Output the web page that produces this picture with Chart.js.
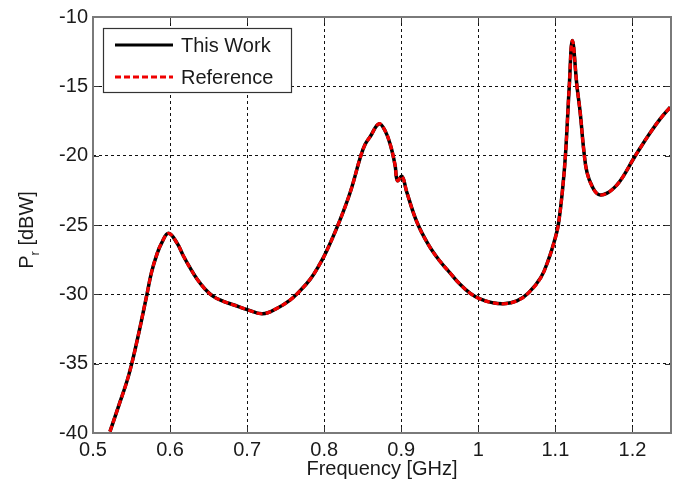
<!DOCTYPE html>
<html lang="en">
<head>
  <meta charset="UTF-8">
  <title>Pr vs Frequency</title>
  <style>
    body {
      margin: 0;
      padding: 0;
      background-color: #fff;
    }

    #chart {
      display: block;
    }
  </style>
</head>
<body>
  <canvas id="chart" width="687" height="491"></canvas>

  <script src="https://cdn.jsdelivr.net/npm/chart.js"></script>
  <script>
    // Frequency samples [GHz]
    const frequencies = [
      0.522, 0.533, 0.546, 0.557, 0.570, 0.576, 0.583, 0.589, 0.598, 0.609,
      0.617, 0.626, 0.635, 0.645, 0.656, 0.669, 0.682, 0.700, 0.720, 0.739,
      0.756, 0.765, 0.782, 0.795, 0.803, 0.819, 0.834, 0.847, 0.853, 0.860,
      0.871, 0.879, 0.886, 0.892, 0.895, 0.901, 0.907, 0.920, 0.935, 0.950,
      0.964, 0.975, 0.990, 1.003, 1.018, 1.033, 1.050, 1.065, 1.081, 1.091,
      1.100, 1.104, 1.109, 1.113, 1.118, 1.122, 1.128, 1.132, 1.137, 1.141,
      1.148, 1.156, 1.167, 1.180, 1.189, 1.200, 1.210, 1.223, 1.236, 1.249
    ];

    // Received power, this work [dBW]
    const thisWork = [
      -39.9, -38.1, -35.9, -33.4, -30.0, -28.4, -27.1, -26.3, -25.6, -26.3,
      -27.2, -28.1, -28.9, -29.6, -30.15, -30.5, -30.75, -31.1, -31.4, -31.0,
      -30.4, -29.95, -28.9, -27.75, -26.9, -24.85, -22.6, -20.1, -19.2, -18.6,
      -17.7, -18.2, -19.25, -20.7, -21.8, -21.5, -22.6, -24.75, -26.4, -27.6,
      -28.5, -29.2, -29.95, -30.35, -30.6, -30.68, -30.47, -29.9, -28.8, -27.5,
      -25.9, -24.9, -22.6, -20.0, -15.0, -11.7, -15.0, -16.8, -19.7, -21.2,
      -22.25, -22.8, -22.7, -22.1, -21.4, -20.35, -19.45, -18.35, -17.35, -16.5
    ];

    // Received power, reference [dBW]
    const reference = [
      -39.9, -38.1, -35.9, -33.4, -30.0, -28.4, -27.1, -26.3, -25.6, -26.3,
      -27.2, -28.1, -28.9, -29.6, -30.15, -30.5, -30.75, -31.1, -31.4, -31.0,
      -30.4, -29.95, -28.9, -27.75, -26.9, -24.85, -22.6, -20.1, -19.2, -18.6,
      -17.7, -18.2, -19.25, -20.7, -21.8, -21.5, -22.6, -24.75, -26.4, -27.6,
      -28.5, -29.2, -29.95, -30.35, -30.6, -30.68, -30.47, -29.9, -28.8, -27.5,
      -25.9, -24.9, -22.6, -20.0, -15.0, -11.7, -15.0, -16.8, -19.7, -21.2,
      -22.25, -22.8, -22.7, -22.1, -21.4, -20.35, -19.45, -18.35, -17.35, -16.5
    ];

    // Tick labels
    const xTicks = [0.5, 0.6, 0.7, 0.8, 0.9, 1, 1.1, 1.2];
    const yTicks = [-40, -35, -30, -25, -20, -15, -10];

    const seriesLabels = ['This Work', 'Reference'];
    const textColor = '#1a1a1a';
    const fontFamily = '"Liberation Sans", Arial, sans-serif';

    const toPoints = (xs, ys) => xs.map((x, i) => ({ x: x, y: ys[i] }));

    // Frame, inward tick marks, y title with subscript, legend box
    const decorations = {
      id: 'decorations',
      afterDatasetsDraw(chart) {
        const { ctx, chartArea: a, scales } = chart;
        ctx.save();

        // inward ticks
        ctx.strokeStyle = '#333';
        ctx.lineWidth = 1;
        ctx.setLineDash([]);
        xTicks.forEach(v => {
          const px = Math.round(scales.x.getPixelForValue(v)) + 0.5;
          ctx.beginPath();
          ctx.moveTo(px, a.bottom); ctx.lineTo(px, a.bottom - 6);
          ctx.moveTo(px, a.top); ctx.lineTo(px, a.top + 6);
          ctx.stroke();
        });
        yTicks.forEach(v => {
          const py = Math.round(scales.y.getPixelForValue(v)) + 0.5;
          ctx.beginPath();
          ctx.moveTo(a.left, py); ctx.lineTo(a.left + 6, py);
          ctx.moveTo(a.right, py); ctx.lineTo(a.right - 6, py);
          ctx.stroke();
        });

        // frame
        ctx.strokeStyle = '#7a7a7a';
        ctx.lineWidth = 2;
        ctx.strokeRect(a.left, a.top, a.right - a.left, a.bottom - a.top);

        // legend
        const box = { x: 103.5, y: 28.5, w: 188, h: 64 };
        ctx.fillStyle = '#fff';
        ctx.fillRect(box.x, box.y, box.w, box.h);
        ctx.strokeStyle = '#333';
        ctx.lineWidth = 1.2;
        ctx.strokeRect(box.x, box.y, box.w, box.h);
        const rows = [45, 77];
        chart.data.datasets.forEach((ds, i) => {
          ctx.beginPath();
          ctx.strokeStyle = ds.borderColor;
          ctx.lineWidth = 3;
          ctx.setLineDash(ds.borderDash || []);
          ctx.moveTo(115, rows[i]);
          ctx.lineTo(173, rows[i]);
          ctx.stroke();
          ctx.setLineDash([]);
          ctx.fillStyle = textColor;
          ctx.font = '20px ' + fontFamily;
          ctx.textBaseline = 'middle';
          ctx.textAlign = 'left';
          ctx.fillText(ds.label, 181, rows[i] + 1);
        });

        ctx.restore();
      },
      afterDraw(chart) {
        const { ctx } = chart;
        ctx.save();
        ctx.translate(27, 230);
        ctx.rotate(-Math.PI / 2);
        ctx.fillStyle = textColor;
        ctx.textBaseline = 'middle';
        ctx.textAlign = 'left';
        const big = '20px ' + fontFamily;
        const small = '13px ' + fontFamily;
        ctx.font = big;
        const wP = ctx.measureText('P').width;
        const wRest = ctx.measureText(' [dBW]').width;
        ctx.font = small;
        const wr = ctx.measureText('r').width;
        let x = -(wP + wr + wRest) / 2;
        ctx.font = big;
        ctx.fillText('P', x, 0);
        x += wP;
        ctx.font = small;
        ctx.fillText('r', x, 8);
        x += wr;
        ctx.font = big;
        ctx.fillText(' [dBW]', x, 0);
        ctx.restore();
      }
    };

    const ctx = document.getElementById('chart').getContext('2d');
    const chart = new Chart(ctx, {
      type: 'line',
      data: {
        datasets: [{
          label: seriesLabels[0],
          data: toPoints(frequencies, thisWork),
          borderColor: '#000',
          borderWidth: 3.5,
          pointRadius: 0,
          order: 2,
          tension: 0.4
        }, {
          label: seriesLabels[1],
          data: toPoints(frequencies, reference),
          borderColor: '#f00000',
          borderWidth: 3.2,
          borderDash: [6, 3],
          pointRadius: 0,
          order: 1,
          tension: 0.4
        }]
      },
      options: {
        responsive: false,
        animation: false,
        devicePixelRatio: 1,
        layout: {
          padding: { top: 14, right: 16, left: 0, bottom: 0 }
        },
        plugins: {
          legend: { display: false },
          tooltip: { enabled: false }
        },
        scales: {
          x: {
            type: 'linear',
            min: 0.5,
            max: 1.25,
            afterBuildTicks: scale => {
              scale.ticks = xTicks.map(v => ({ value: v }));
            },
            afterFit: scale => {
              scale.height = 58;
            },
            ticks: {
              padding: 5,
              color: textColor,
              font: { family: fontFamily, size: 20 },
              callback: v => String(Math.round(v * 10) / 10)
            },
            grid: {
              color: '#111',
              lineWidth: 1,
              drawTicks: false
            },
            border: { display: false, dash: [3, 3] },
            title: {
              display: true,
              text: 'Frequency [GHz]',
              color: textColor,
              font: { family: fontFamily, size: 20 },
              padding: { top: 0, bottom: 10 }
            }
          },
          y: {
            min: -40,
            max: -10,
            afterBuildTicks: scale => {
              scale.ticks = yTicks.map(v => ({ value: v }));
            },
            afterFit: scale => {
              scale.width = 93;
            },
            ticks: {
              padding: 5,
              color: textColor,
              font: { family: fontFamily, size: 20 }
            },
            grid: {
              color: '#111',
              lineWidth: 1,
              drawTicks: false
            },
            border: { display: false, dash: [3, 3] }
          }
        }
      },
      plugins: [decorations]
    });
  </script>
</body>
</html>
